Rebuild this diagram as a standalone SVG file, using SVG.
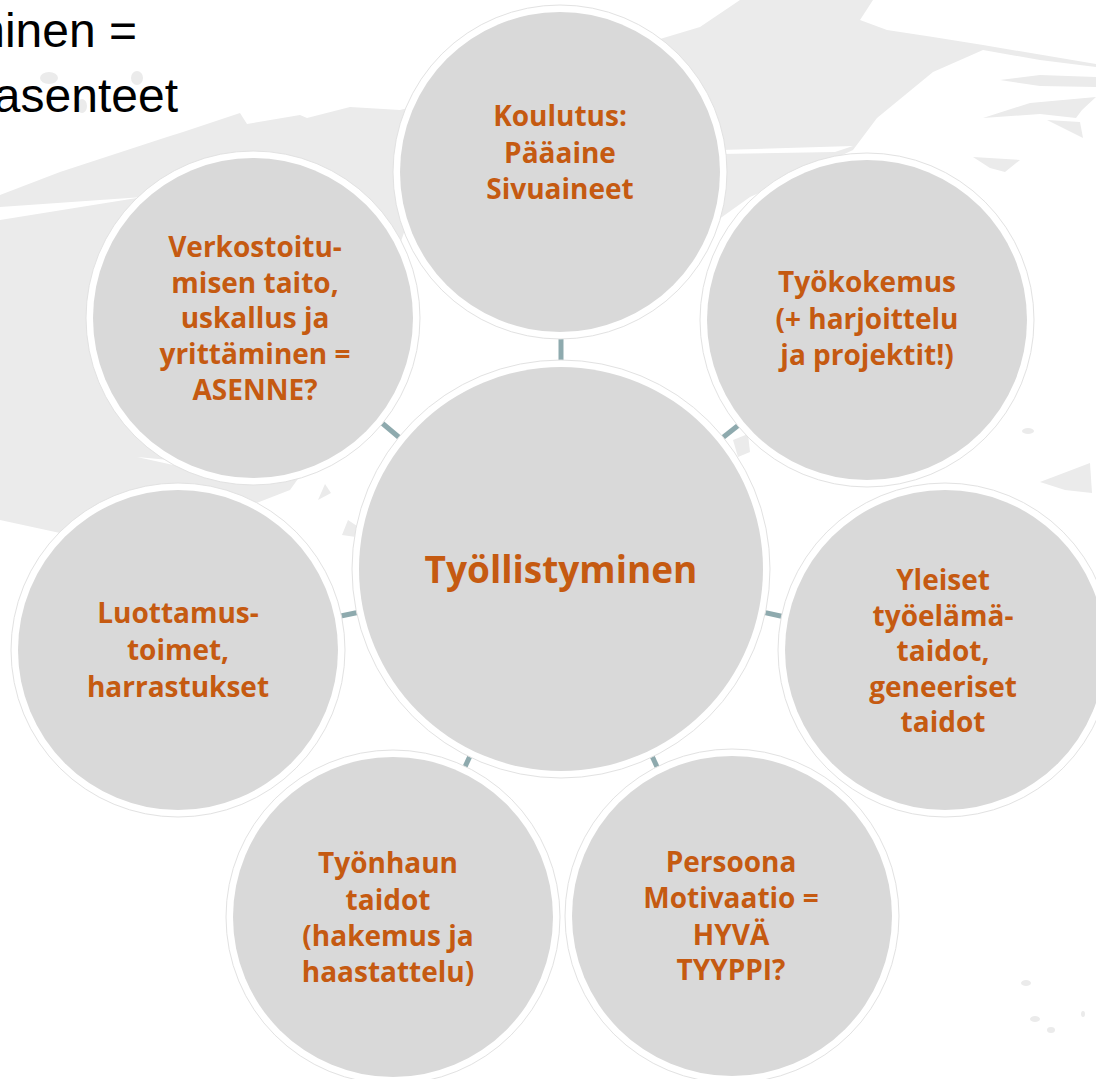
<svg xmlns="http://www.w3.org/2000/svg" width="1096" height="1079" viewBox="0 0 1096 1079">
<style>
.bg{fill:#ebebeb}
.ring{fill:#ffffff;stroke:#e2e2e2;stroke-width:1}
.disc{fill:#d9d9d9}
.lbl{font-family:"Open Sans",Lato,"DejaVu Sans",sans-serif;font-weight:700;font-size:28px;fill:#c55a11;text-anchor:middle}
.big{font-size:37px}
.title{font-family:"Liberation Sans",Arial,sans-serif;font-size:48px;fill:#000;text-anchor:end}
.tick{stroke:#8eaaae;stroke-width:5;stroke-linecap:butt}
</style>
<rect width="1096" height="1079" fill="#ffffff"/>
<g id="background">
<path class="bg" d="M0,195 L60,172 L167,137 L183,132 L240,113 L247,124 L300,115 L307,118 L350,107 L400,110 L520,80 L630,48 L700,27 L740,0 L873,0 L860,20 L887,30 L933,37 L983,45 L1096,64 L1096,67 L1040,60 L983,50 L933,72 L877,118 L853,150 L800,175 L750,197 L715,222 L560,250 L410,215 L340,420 L290,490 L200,525 L60,533 L0,520 Z"/>
<path fill="#ffffff" d="M0,207 L143,197 L0,220 Z"/>
<path fill="#ffffff" d="M720,150 L853,146 L835,152 L720,154 Z"/>
<path fill="#ffffff" d="M137,457 L190,462 L187,468 Z"/>
<path class="bg" d="M1000,80 L1040,75 L1096,77 L1096,87 L1040,86 Z"/>
<path class="bg" d="M983,118 L1030,103 L1096,97 L1082,110 L1076,118 L1040,114 Z"/>
<path class="bg" d="M1047,120 L1080,122 L1083,138 Z"/>
<path class="bg" d="M973,157 L1020,160 L1005,172 L990,168 Z"/>
<path class="bg" d="M1040,482 L1090,463 L1092,493 L1065,490 Z"/>
<ellipse class="bg" cx="1028" cy="431" rx="6" ry="3"/>
<path class="bg" d="M733,440 L748,434 L750,452 L738,457 Z"/>
<path class="bg" d="M318,500 L325,484 L331,493 Z"/>
<path class="bg" d="M342,535 L348,520 L357,526 L356,537 Z"/>
<ellipse class="bg" cx="49" cy="78" rx="9" ry="6"/>
<ellipse class="bg" cx="82" cy="106" rx="5" ry="7"/>
<ellipse class="bg" cx="137" cy="78" rx="6" ry="7"/>
<ellipse class="bg" cx="1026" cy="983" rx="5" ry="3"/>
<ellipse class="bg" cx="1035" cy="1019" rx="5" ry="3"/>
<ellipse class="bg" cx="1051" cy="1030" rx="4" ry="3"/>
<ellipse class="bg" cx="1083" cy="1014" rx="2" ry="3"/>
</g>
<g id="title">
<text class="title" x="137" y="47">minen =</text>
<text class="title" x="178" y="112">asenteet</text>
</g>
<g id="connectors">
<line class="tick" x1="561" y1="363" x2="561" y2="339"/>
<line class="tick" x1="401" y1="439" x2="382" y2="423"/>
<line class="tick" x1="721" y1="439" x2="740" y2="424"/>
<line class="tick" x1="360" y1="612" x2="336" y2="617"/>
<line class="tick" x1="762" y1="612" x2="785" y2="617"/>
<line class="tick" x1="470" y1="756" x2="464" y2="769"/>
<line class="tick" x1="652" y1="756" x2="658" y2="769"/>
</g>
<g id="node-center">
<circle class="ring" cx="561" cy="569" r="209"/>
<circle class="disc" cx="561" cy="569" r="202"/>
<text class="lbl big" x="561" y="583">Työllistyminen</text>
</g>
<g id="node-koulutus">
<circle class="ring" cx="560" cy="172" r="167"/>
<circle class="disc" cx="560" cy="172" r="160"/>
<text class="lbl" x="560" y="126">Koulutus:</text>
<text class="lbl" x="560" y="163">Pääaine</text>
<text class="lbl" x="560" y="199">Sivuaineet</text>
</g>
<g id="node-verkostoituminen">
<circle class="ring" cx="253" cy="318" r="167"/>
<circle class="disc" cx="253" cy="318" r="160"/>
<text class="lbl" x="255" y="257">Verkostoitu-</text>
<text class="lbl" x="255" y="293">misen taito,</text>
<text class="lbl" x="255" y="328">uskallus ja</text>
<text class="lbl" x="255" y="364">yrittäminen =</text>
<text class="lbl" x="255" y="400">ASENNE?</text>
</g>
<g id="node-tyokokemus">
<circle class="ring" cx="867" cy="320" r="167"/>
<circle class="disc" cx="867" cy="320" r="160"/>
<text class="lbl" x="867" y="292">Työkokemus</text>
<text class="lbl" x="867" y="329">(+ harjoittelu</text>
<text class="lbl" x="867" y="365">ja projektit!)</text>
</g>
<g id="node-luottamustoimet">
<circle class="ring" cx="178" cy="650" r="167"/>
<circle class="disc" cx="178" cy="650" r="160"/>
<text class="lbl" x="178" y="623">Luottamus-</text>
<text class="lbl" x="178" y="660">toimet,</text>
<text class="lbl" x="178" y="697">harrastukset</text>
</g>
<g id="node-yleiset">
<circle class="ring" cx="945" cy="650" r="167"/>
<circle class="disc" cx="945" cy="650" r="160"/>
<text class="lbl" x="943" y="590">Yleiset</text>
<text class="lbl" x="943" y="626">työelämä-</text>
<text class="lbl" x="943" y="661">taidot,</text>
<text class="lbl" x="943" y="697">geneeriset</text>
<text class="lbl" x="943" y="732">taidot</text>
</g>
<g id="node-tyonhaku">
<circle class="ring" cx="393" cy="917" r="167"/>
<circle class="disc" cx="393" cy="917" r="160"/>
<text class="lbl" x="388" y="873">Työnhaun</text>
<text class="lbl" x="388" y="910">taidot</text>
<text class="lbl" x="388" y="946">(hakemus ja</text>
<text class="lbl" x="388" y="982">haastattelu)</text>
</g>
<g id="node-persoona">
<circle class="ring" cx="732" cy="916" r="167"/>
<circle class="disc" cx="732" cy="916" r="160"/>
<text class="lbl" x="731" y="872">Persoona</text>
<text class="lbl" x="731" y="908">Motivaatio =</text>
<text class="lbl" x="731" y="945">HYVÄ</text>
<text class="lbl" x="731" y="980">TYYPPI?</text>
</g>
</svg>
